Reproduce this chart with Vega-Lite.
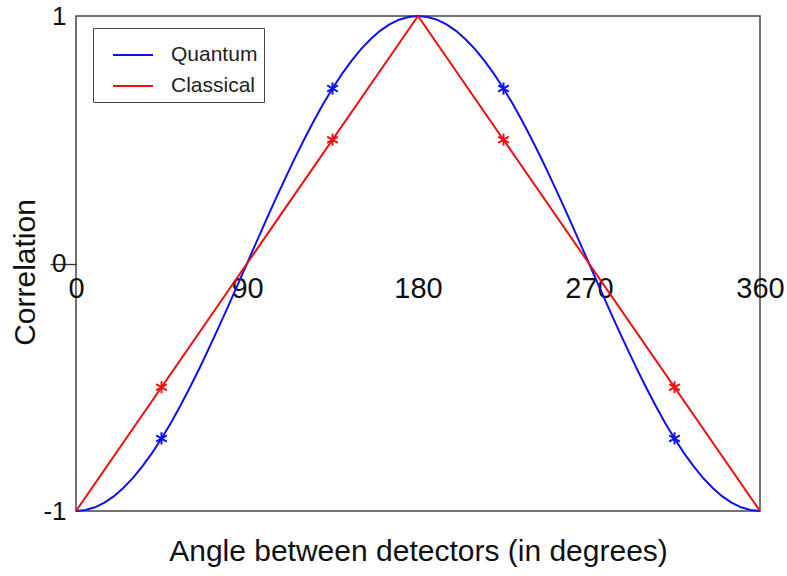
{
  "$schema": "https://vega.github.io/schema/vega-lite/v6.json",
  "width": 684,
  "height": 495,
  "autosize": {"type": "none"},
  "padding": {"left": 76, "top": 16, "right": 27, "bottom": 65},
  "background": "white",
  "config": {
    "font": "Liberation Sans",
    "view": {"stroke": "#444", "strokeWidth": 1.5},
    "axis": {"grid": false, "labelColor": "#111", "titleColor": "#111", "titleFontWeight": "normal"}
  },
  "datasets": {
    "curves": [
      {"series": "Quantum", "angle": 0, "value": -1},
      {"series": "Quantum", "angle": 5, "value": -0.996},
      {"series": "Quantum", "angle": 10, "value": -0.985},
      {"series": "Quantum", "angle": 15, "value": -0.966},
      {"series": "Quantum", "angle": 20, "value": -0.940},
      {"series": "Quantum", "angle": 25, "value": -0.906},
      {"series": "Quantum", "angle": 30, "value": -0.866},
      {"series": "Quantum", "angle": 35, "value": -0.819},
      {"series": "Quantum", "angle": 40, "value": -0.766},
      {"series": "Quantum", "angle": 45, "value": -0.707},
      {"series": "Quantum", "angle": 50, "value": -0.643},
      {"series": "Quantum", "angle": 55, "value": -0.574},
      {"series": "Quantum", "angle": 60, "value": -0.5},
      {"series": "Quantum", "angle": 65, "value": -0.423},
      {"series": "Quantum", "angle": 70, "value": -0.342},
      {"series": "Quantum", "angle": 75, "value": -0.259},
      {"series": "Quantum", "angle": 80, "value": -0.174},
      {"series": "Quantum", "angle": 85, "value": -0.087},
      {"series": "Quantum", "angle": 90, "value": 0},
      {"series": "Quantum", "angle": 95, "value": 0.087},
      {"series": "Quantum", "angle": 100, "value": 0.174},
      {"series": "Quantum", "angle": 105, "value": 0.259},
      {"series": "Quantum", "angle": 110, "value": 0.342},
      {"series": "Quantum", "angle": 115, "value": 0.423},
      {"series": "Quantum", "angle": 120, "value": 0.5},
      {"series": "Quantum", "angle": 125, "value": 0.574},
      {"series": "Quantum", "angle": 130, "value": 0.643},
      {"series": "Quantum", "angle": 135, "value": 0.707},
      {"series": "Quantum", "angle": 140, "value": 0.766},
      {"series": "Quantum", "angle": 145, "value": 0.819},
      {"series": "Quantum", "angle": 150, "value": 0.866},
      {"series": "Quantum", "angle": 155, "value": 0.906},
      {"series": "Quantum", "angle": 160, "value": 0.940},
      {"series": "Quantum", "angle": 165, "value": 0.966},
      {"series": "Quantum", "angle": 170, "value": 0.985},
      {"series": "Quantum", "angle": 175, "value": 0.996},
      {"series": "Quantum", "angle": 180, "value": 1},
      {"series": "Quantum", "angle": 185, "value": 0.996},
      {"series": "Quantum", "angle": 190, "value": 0.985},
      {"series": "Quantum", "angle": 195, "value": 0.966},
      {"series": "Quantum", "angle": 200, "value": 0.940},
      {"series": "Quantum", "angle": 205, "value": 0.906},
      {"series": "Quantum", "angle": 210, "value": 0.866},
      {"series": "Quantum", "angle": 215, "value": 0.819},
      {"series": "Quantum", "angle": 220, "value": 0.766},
      {"series": "Quantum", "angle": 225, "value": 0.707},
      {"series": "Quantum", "angle": 230, "value": 0.643},
      {"series": "Quantum", "angle": 235, "value": 0.574},
      {"series": "Quantum", "angle": 240, "value": 0.5},
      {"series": "Quantum", "angle": 245, "value": 0.423},
      {"series": "Quantum", "angle": 250, "value": 0.342},
      {"series": "Quantum", "angle": 255, "value": 0.259},
      {"series": "Quantum", "angle": 260, "value": 0.174},
      {"series": "Quantum", "angle": 265, "value": 0.087},
      {"series": "Quantum", "angle": 270, "value": 0},
      {"series": "Quantum", "angle": 275, "value": -0.087},
      {"series": "Quantum", "angle": 280, "value": -0.174},
      {"series": "Quantum", "angle": 285, "value": -0.259},
      {"series": "Quantum", "angle": 290, "value": -0.342},
      {"series": "Quantum", "angle": 295, "value": -0.423},
      {"series": "Quantum", "angle": 300, "value": -0.5},
      {"series": "Quantum", "angle": 305, "value": -0.574},
      {"series": "Quantum", "angle": 310, "value": -0.643},
      {"series": "Quantum", "angle": 315, "value": -0.707},
      {"series": "Quantum", "angle": 320, "value": -0.766},
      {"series": "Quantum", "angle": 325, "value": -0.819},
      {"series": "Quantum", "angle": 330, "value": -0.866},
      {"series": "Quantum", "angle": 335, "value": -0.906},
      {"series": "Quantum", "angle": 340, "value": -0.940},
      {"series": "Quantum", "angle": 345, "value": -0.966},
      {"series": "Quantum", "angle": 350, "value": -0.985},
      {"series": "Quantum", "angle": 355, "value": -0.996},
      {"series": "Quantum", "angle": 360, "value": -1},
      {"series": "Classical", "angle": 0, "value": -1},
      {"series": "Classical", "angle": 180, "value": 1},
      {"series": "Classical", "angle": 360, "value": -1}
    ],
    "markers": [
      {"series": "Quantum", "angle": 45, "value": -0.707},
      {"series": "Quantum", "angle": 135, "value": 0.707},
      {"series": "Quantum", "angle": 225, "value": 0.707},
      {"series": "Quantum", "angle": 315, "value": -0.707},
      {"series": "Classical", "angle": 45, "value": -0.5},
      {"series": "Classical", "angle": 135, "value": 0.5},
      {"series": "Classical", "angle": 225, "value": 0.5},
      {"series": "Classical", "angle": 315, "value": -0.5}
    ]
  },
  "layer": [
    {
      "mark": {"type": "rule", "color": "#333", "strokeWidth": 1.3},
      "encoding": {
        "y": {"datum": 0, "type": "quantitative", "scale": {"domain": [-1, 1]}}
      }
    },
    {
      "data": {"name": "curves"},
      "mark": {"type": "line", "strokeWidth": 2},
      "encoding": {
        "x": {
          "field": "angle", "type": "quantitative",
          "scale": {"domain": [0, 360], "nice": false, "zero": false},
          "axis": {
            "orient": "bottom", "offset": -247.5, "values": [0, 90, 180, 270, 360],
            "domain": false, "ticks": false, "labelFlush": false, "labelFontSize": 29,
            "labelPadding": 11, "labelOverlap": false,
            "title": "Angle between detectors (in degrees)", "titleFontSize": 30,
            "titleY": 288, "titleBaseline": "middle"
          }
        },
        "y": {
          "field": "value", "type": "quantitative",
          "scale": {"domain": [-1, 1], "nice": false},
          "axis": {
            "values": [-1, 0, 1], "domain": false, "tickSize": 26,
            "labelExpr": "datum.value + ''",
            "tickColor": {"condition": {"test": "datum.value === 0", "value": "#333"}, "value": "transparent"},
            "tickWidth": 1.3, "labelPadding": -16, "labelFontSize": 26, "labelFlush": false,
            "title": "Correlation", "titleFontSize": 30, "titleX": -51, "titleY": 256,
            "titleAngle": -90, "titleBaseline": "middle", "titleAlign": "center"
          }
        },
        "detail": {"field": "series"},
        "color": {
          "field": "series", "type": "nominal",
          "scale": {"domain": ["Quantum", "Classical"], "range": ["#1010ee", "#ee1010"]},
          "legend": {
            "title": null, "orient": "none", "legendX": 17, "legendY": 12,
            "symbolType": "stroke", "symbolSize": 1600, "symbolStrokeWidth": 2,
            "symbolOffset": 13,
            "labelFontSize": 21, "labelOffset": 17, "rowPadding": -9,
            "padding": 6, "strokeColor": "#444", "fillColor": "white",
            "labelColor": "#222"
          }
        }
      }
    },
    {
      "data": {"name": "markers"},
      "mark": {
        "type": "point", "filled": false, "strokeWidth": 2, "size": 150, "opacity": 1,
        "shape": "M0,-1L0,1M-0.87,-0.5L0.87,0.5M-0.87,0.5L0.87,-0.5"
      },
      "encoding": {
        "x": {"field": "angle", "type": "quantitative"},
        "y": {"field": "value", "type": "quantitative"},
        "color": {"field": "series", "type": "nominal"}
      }
    }
  ]
}
